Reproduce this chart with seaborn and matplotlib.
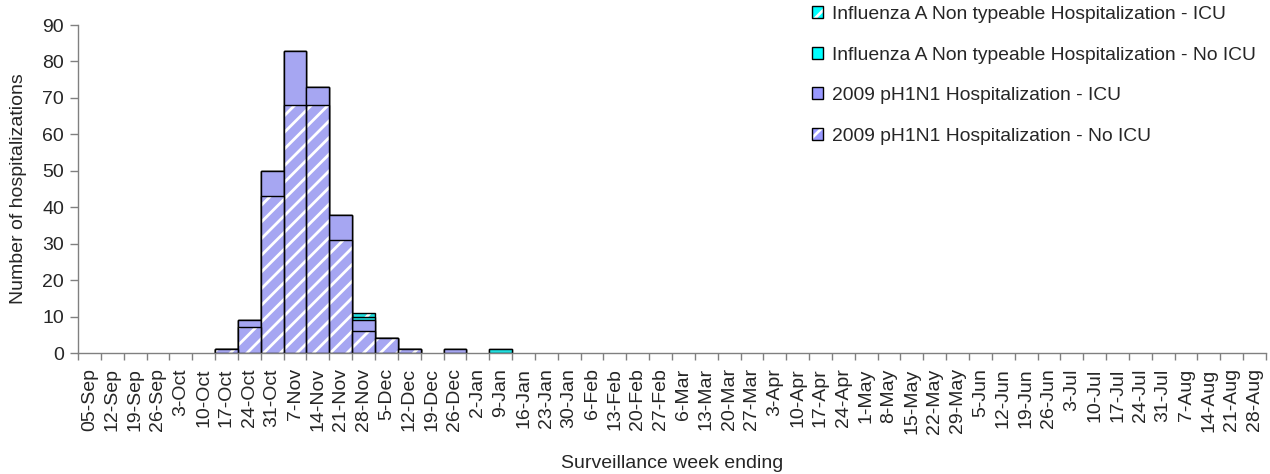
import matplotlib
matplotlib.use("Agg")
import matplotlib.pyplot as plt
from matplotlib.patches import Patch
from matplotlib.ticker import FixedLocator
import numpy as np
import seaborn as sns

# week ending labels (Sep 2009 - Aug 2010)
weeks = ["05-Sep", "12-Sep", "19-Sep", "26-Sep", "3-Oct", "10-Oct", "17-Oct", "24-Oct",
         "31-Oct", "7-Nov", "14-Nov", "21-Nov", "28-Nov", "5-Dec", "12-Dec", "19-Dec",
         "26-Dec", "2-Jan", "9-Jan", "16-Jan", "23-Jan", "30-Jan", "6-Feb", "13-Feb",
         "20-Feb", "27-Feb", "6-Mar", "13-Mar", "20-Mar", "27-Mar", "3-Apr", "10-Apr",
         "17-Apr", "24-Apr", "1-May", "8-May", "15-May", "22-May", "29-May", "5-Jun",
         "12-Jun", "19-Jun", "26-Jun", "3-Jul", "10-Jul", "17-Jul", "24-Jul", "31-Jul",
         "7-Aug", "14-Aug", "21-Aug", "28-Aug"]

# hospitalizations per week, by series
ph1n1_no_icu = [0, 0, 0, 0, 0, 0, 1, 7, 43, 68, 68, 31, 6, 4, 1, 0,
                0, 0, 0, 0, 0, 0, 0, 0, 0, 0, 0, 0, 0, 0, 0, 0,
                0, 0, 0, 0, 0, 0, 0, 0, 0, 0, 0, 0, 0, 0, 0, 0,
                0, 0, 0, 0]
ph1n1_icu = [0, 0, 0, 0, 0, 0, 0, 2, 7, 15, 5, 7, 3, 0, 0, 0,
             1, 0, 0, 0, 0, 0, 0, 0, 0, 0, 0, 0, 0, 0, 0, 0,
             0, 0, 0, 0, 0, 0, 0, 0, 0, 0, 0, 0, 0, 0, 0, 0,
             0, 0, 0, 0]
nontype_no_icu = [0, 0, 0, 0, 0, 0, 0, 0, 0, 0, 0, 0, 1, 0, 0, 0,
                  0, 0, 1, 0, 0, 0, 0, 0, 0, 0, 0, 0, 0, 0, 0, 0,
                  0, 0, 0, 0, 0, 0, 0, 0, 0, 0, 0, 0, 0, 0, 0, 0,
                  0, 0, 0, 0]
nontype_icu = [0, 0, 0, 0, 0, 0, 0, 0, 0, 0, 0, 0, 1, 0, 0, 0,
               0, 0, 0, 0, 0, 0, 0, 0, 0, 0, 0, 0, 0, 0, 0, 0,
               0, 0, 0, 0, 0, 0, 0, 0, 0, 0, 0, 0, 0, 0, 0, 0,
               0, 0, 0, 0]

series_names = ["2009 pH1N1 Hospitalization - No ICU", "2009 pH1N1 Hospitalization - ICU",
                "Influenza A Non typeable Hospitalization - No ICU",
                "Influenza A Non typeable Hospitalization - ICU"]

PERI = "#9999FF"
CYAN = "#00FFFF"
AXGRAY = "#808080"

sns.set_style("white")
plt.rcParams["font.family"] = ["Liberation Sans", "DejaVu Sans"]
plt.rcParams["hatch.linewidth"] = 2.0

fig = plt.figure(figsize=(12.7, 4.74), dpi=100)
ax = fig.add_axes([78 / 1270, 1 - 353 / 474, 1188 / 1270, 328 / 474])

layers = [ph1n1_no_icu, ph1n1_icu, nontype_no_icu, nontype_icu]
colors = [PERI, PERI, CYAN, CYAN]
hatched = [True, False, False, True]
cum = np.cumsum(np.array(layers), axis=0)

# stacked bars: draw top totals first, lower layers over them
for i in range(3, -1, -1):
    if hatched[i]:
        sns.barplot(x=weeks, y=cum[i], order=weeks, color=colors[i], width=1,
                    errorbar=None, hatch="//", edgecolor="white", linewidth=0, ax=ax)
        sns.barplot(x=weeks, y=cum[i], order=weeks, width=1, errorbar=None,
                    fill=False, color="black", linewidth=1, ax=ax)
    else:
        sns.barplot(x=weeks, y=cum[i], order=weeks, color=colors[i], width=1,
                    errorbar=None, edgecolor="black", linewidth=1, ax=ax)

for p in ax.patches:
    if p.get_height() == 0:
        p.set_linewidth(0)

ax.set_xlim(-0.5, len(weeks) - 0.5)
ax.set_ylim(0, 90)
ax.set_yticks(range(0, 91, 10))

# ticks between categories, labels at centres
ax.xaxis.set_minor_locator(FixedLocator(np.arange(-0.5, len(weeks), 1.0)))
ax.tick_params(axis="x", which="major", length=0, pad=11, labelsize=14, rotation=90)
ax.tick_params(axis="x", which="minor", length=5, width=1, color=AXGRAY, direction="out",
               bottom=True)
ax.tick_params(axis="y", which="major", length=6, width=1, color=AXGRAY, pad=4,
               labelsize=14, direction="out", left=True)

for s in ["top", "right"]:
    ax.spines[s].set_visible(False)
for s in ["left", "bottom"]:
    ax.spines[s].set_color(AXGRAY)
    ax.spines[s].set_linewidth(1)

ax.set_xlabel("Surveillance week ending", fontsize=14)
ax.set_ylabel("Number of hospitalizations", fontsize=14)
ax.xaxis.set_label_coords(0.5, -0.31)
ax.yaxis.set_label_coords(-0.043, 0.5)

# legend, reversed order, hatched handles built as overlaid patches
handles = []
for i in range(3, -1, -1):
    if hatched[i]:
        h = (Patch(facecolor=colors[i], hatch="//", edgecolor="white", linewidth=0),
             Patch(facecolor="none", edgecolor="black", linewidth=1))
    else:
        h = Patch(facecolor=colors[i], edgecolor="black", linewidth=1)
    handles.append(h)
fig.legend(handles, series_names[::-1], loc="upper left",
           bbox_to_anchor=(812 / 1270, 1 - 6 / 474), bbox_transform=fig.transFigure,
           frameon=False, fontsize=13.9, handlelength=0.55, handleheight=0.55,
           handletextpad=0.5, labelspacing=1.22, borderpad=0, borderaxespad=0)

fig.savefig("out.png", dpi=100)
